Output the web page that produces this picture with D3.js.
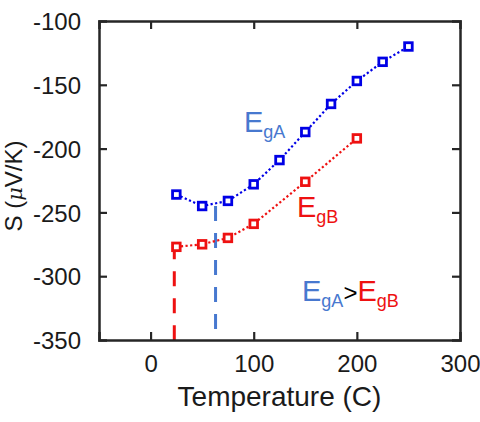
<!DOCTYPE html>
<html>
<head>
<meta charset="utf-8">
<script src="https://cdn.jsdelivr.net/npm/d3@7"></script>
<style>
  body { margin: 0; background: #fff; }
  text { font-family: "Liberation Sans", Arial, sans-serif; }
</style>
</head>
<body>
<svg id="chart" width="480" height="422"></svg>
<script>
// data
const tempA = [25, 50, 75, 100, 125, 150, 175, 200, 225, 250];
const seebeckA = [-236, -245, -241, -228, -209, -187, -165, -147, -132, -120];
const tempB = [25, 50, 75, 100, 150, 200];
const seebeckB = [-277, -275, -270, -259, -226, -192];
const onsetA = { x: 63, top: -245 };
const onsetB = { x: 23, top: -275 };
const xTicks = [0, 100, 200, 300];
const yTicks = [-350, -300, -250, -200, -150, -100];

const blue = '#0000e6';
const lightBlue = '#4778cf';
const red = '#ee1111';
const axisColor = '#262626';

const margin = { left: 99, right: 20, top: 21, bottom: 82 };
const width = 480, height = 422;

const svg = d3.select('#chart');

const x = d3.scaleLinear().domain([-50, 300]).range([margin.left, width - margin.right]);
const y = d3.scaleLinear().domain([-350, -100]).range([height - margin.bottom, margin.top]);

// onset dashed lines
const drawOnset = (o, color) => {
  svg.append('line')
    .attr('x1', x(o.x)).attr('x2', x(o.x))
    .attr('y1', y(o.top)).attr('y2', y(-350))
    .attr('stroke', color)
    .attr('stroke-width', 3)
    .attr('stroke-dasharray', '15,12');
};
drawOnset(onsetB, red);
drawOnset(onsetA, lightBlue);

// dotted series + square markers
const drawSeries = (xs, ys, color) => {
  const pts = xs.map((d, i) => [d, ys[i]]);
  svg.append('path')
    .datum(pts)
    .attr('fill', 'none')
    .attr('stroke', color)
    .attr('stroke-width', 2.2)
    .attr('stroke-dasharray', '2.2,2.4')
    .attr('d', d3.line().x(d => x(d[0])).y(d => y(d[1])));

  svg.append('g')
    .selectAll('rect')
    .data(pts)
    .join('rect')
    .attr('x', d => x(d[0]) - 3.8)
    .attr('y', d => y(d[1]) - 3.8)
    .attr('width', 7.6)
    .attr('height', 7.6)
    .attr('fill', '#fff')
    .attr('stroke', color)
    .attr('stroke-width', 2.8);
};
drawSeries(tempA, seebeckA, blue);
drawSeries(tempB, seebeckB, red);

// axes, ticks pointing inward, box all round
const tickLen = 8;
const plain = d => String(d);
const xb = svg.append('g')
  .attr('transform', `translate(0,${y(-350)})`)
  .call(d3.axisBottom(x).tickValues(xTicks).tickSize(-tickLen).tickPadding(15).tickFormat(plain));
const xt = svg.append('g')
  .attr('transform', `translate(0,${y(-100)})`)
  .call(d3.axisTop(x).tickValues(xTicks).tickSize(-tickLen).tickFormat(''));
const yl = svg.append('g')
  .attr('transform', `translate(${x(-50)},0)`)
  .call(d3.axisLeft(y).tickValues(yTicks).tickSize(-tickLen).tickPadding(18).tickFormat(plain));
const yr = svg.append('g')
  .attr('transform', `translate(${x(300)},0)`)
  .call(d3.axisRight(y).tickValues(yTicks).tickSize(-tickLen).tickFormat(''));

[xb, xt, yl, yr].forEach(g => {
  g.select('.domain').attr('stroke', axisColor).attr('stroke-width', 2.5);
  g.selectAll('.tick line').attr('stroke', axisColor).attr('stroke-width', 2.2);
  g.selectAll('.tick text')
    .attr('fill', '#1a1a1a')
    .style('font-size', '24px');
});
// hide tick marks that sit on the box corners
xb.selectAll('.tick').filter(d => d === 300).select('line').remove();
xt.selectAll('.tick').filter(d => d === 300).remove();
yl.selectAll('.tick').filter(d => d === -100 || d === -350).select('line').remove();
yr.selectAll('.tick').filter(d => d === -100 || d === -350).remove();
yl.selectAll('.tick text').attr('dy', '0.36em');

// axis titles
svg.append('text')
  .attr('x', (x(-50) + x(300)) / 2)
  .attr('y', 406)
  .attr('text-anchor', 'middle')
  .attr('fill', '#1a1a1a')
  .style('font-size', '28px')
  .text('Temperature (C)');

const yTitle = svg.append('text')
  .attr('transform', 'translate(22,186) rotate(-90)')
  .attr('text-anchor', 'middle')
  .attr('fill', '#1a1a1a')
  .style('font-size', '24px');
yTitle.append('tspan').text('S (');
yTitle.append('tspan').style('font-style', 'italic').style('font-family', '"DejaVu Serif", serif').style('font-size', '21px').text('μ');
yTitle.append('tspan').text('V/K)');

// Eg annotations
const eg = (xPos, yPos, sub, color) => {
  const t = svg.append('text').attr('x', xPos).attr('y', yPos).attr('fill', color);
  t.append('tspan').style('font-size', '29px').text('E');
  t.append('tspan').style('font-size', '18px').attr('dy', 6).text(sub);
  return t;
};
eg(244, 132, 'gA', lightBlue);
eg(297, 217, 'gB', red);

const cmp = svg.append('text').attr('x', 302).attr('y', 301);
cmp.append('tspan').attr('fill', lightBlue).style('font-size', '29px').text('E');
cmp.append('tspan').attr('fill', lightBlue).style('font-size', '18px').attr('dy', 6).text('gA');
cmp.append('tspan').attr('fill', '#000').style('font-size', '24px').attr('dy', -6).text('>');
cmp.append('tspan').attr('fill', red).style('font-size', '29px').text('E');
cmp.append('tspan').attr('fill', red).style('font-size', '18px').attr('dy', 6).text('gB');
</script>
</body>
</html>
